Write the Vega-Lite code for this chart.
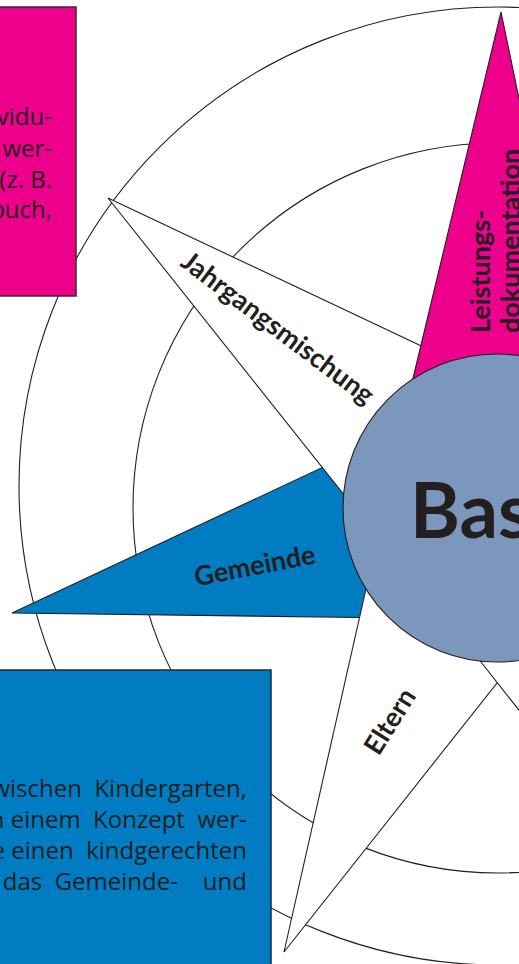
{
  "$schema": "https://vega.github.io/schema/vega-lite/v6.json",
  "width": 519,
  "height": 964,
  "autosize": {"type": "none"},
  "padding": 0,
  "background": "white",
  "config": {"view": {"stroke": null}},
  "datasets": {
    "rings": [
      {"ring": "outer", "x": 498, "y": 486},
      {"ring": "middle", "x": 498, "y": 508},
      {"ring": "hub", "x": 497, "y": 508}
    ],
    "shapes": [
      {"shape": "Gemeinde", "v": 1, "x": 12, "y": 613},
      {"shape": "Gemeinde", "v": 2, "x": 400, "y": 431},
      {"shape": "Gemeinde", "v": 3, "x": 400, "y": 618},
      {"shape": "Jahrgangsmischung", "v": 1, "x": 108, "y": 198},
      {"shape": "Jahrgangsmischung", "v": 2, "x": 470, "y": 369},
      {"shape": "Jahrgangsmischung", "v": 3, "x": 372, "y": 530},
      {"shape": "Eltern", "v": 1, "x": 284, "y": 952},
      {"shape": "Eltern", "v": 2, "x": 368, "y": 580},
      {"shape": "Eltern", "v": 3, "x": 520, "y": 654},
      {"shape": "Suedost", "v": 1, "x": 470, "y": 648},
      {"shape": "Suedost", "v": 2, "x": 889, "y": 1180},
      {"shape": "Suedost", "v": 3, "x": 560, "y": 600},
      {"shape": "Leistungsdokumentation", "v": 1, "x": 501, "y": 12},
      {"shape": "Leistungsdokumentation", "v": 2, "x": 586, "y": 420},
      {"shape": "Leistungsdokumentation", "v": 3, "x": 403, "y": 420}
    ],
    "labels": [
      {"label": "Jahrgangsmischung", "x": 277, "y": 329},
      {"label": "Gemeinde", "x": 255, "y": 567},
      {"label": "Eltern", "x": 391, "y": 722},
      {"label": "Leistungs-", "x": 490, "y": 333},
      {"label": "dokumentation", "x": 520, "y": 333},
      {"label": "Basisstufe", "x": 410, "y": 538}
    ],
    "boxes": [
      {"box": "pink", "x": -10, "x2": 76, "y": 7, "y2": 296},
      {"box": "blue", "x": -10, "x2": 271, "y": 670, "y2": 990}
    ],
    "boxtext": [
      {"box": "pink", "x": 52, "y": 125, "t": "individu-"},
      {"box": "pink", "x": 52, "y": 157, "t": "dokumentiert wer-"},
      {"box": "pink", "x": 52, "y": 188, "t": "den (z. B."},
      {"box": "pink", "x": 52, "y": 218, "t": "Lerntagebuch,"},
      {"box": "blue", "x": 247, "y": 797, "t": "zwischen\u00a0\u00a0Kindergarten,"},
      {"box": "blue", "x": 247, "y": 828, "t": "in\u00a0einem\u00a0\u00a0Konzept\u00a0\u00a0wer-"},
      {"box": "blue", "x": 247, "y": 859, "t": "die\u00a0einen\u00a0\u00a0kindgerechten"},
      {"box": "blue", "x": 247, "y": 890, "t": "für\u00a0\u00a0\u00a0\u00a0das\u00a0\u00a0Gemeinde-\u00a0\u00a0\u00a0\u00a0und"}
    ]
  },
  "encoding": {
    "x": {"field": "x", "type": "quantitative", "scale": {"domain": [0, 519], "nice": false, "zero": false}, "axis": null},
    "y": {"field": "y", "type": "quantitative", "scale": {"domain": [0, 964], "nice": false, "zero": false, "reverse": true}, "axis": null}
  },
  "layer": [
    {
      "data": {"name": "rings"},
      "transform": [{"filter": "datum.ring == 'outer'"}],
      "mark": {"type": "point", "shape": "circle", "size": 917764, "filled": false, "stroke": "#231f20", "strokeWidth": 1.1, "opacity": 1}
    },
    {
      "data": {"name": "rings"},
      "transform": [{"filter": "datum.ring == 'middle'"}],
      "mark": {"type": "point", "shape": "circle", "size": 532900, "filled": false, "stroke": "#231f20", "strokeWidth": 1.1, "opacity": 1}
    },
    {
      "data": {"name": "shapes"},
      "transform": [{"filter": "datum.shape == 'Gemeinde'"}],
      "mark": {"type": "line", "interpolate": "linear-closed", "fill": "#007cc3", "stroke": "#231f20", "strokeWidth": 1.1, "strokeJoin": "miter"},
      "encoding": {"order": {"field": "v", "type": "quantitative"}}
    },
    {
      "data": {"name": "shapes"},
      "transform": [{"filter": "datum.shape == 'Jahrgangsmischung'"}],
      "mark": {"type": "line", "interpolate": "linear-closed", "fill": "white", "stroke": "#231f20", "strokeWidth": 1.1, "strokeJoin": "miter"},
      "encoding": {"order": {"field": "v", "type": "quantitative"}}
    },
    {
      "data": {"name": "shapes"},
      "transform": [{"filter": "datum.shape == 'Eltern'"}],
      "mark": {"type": "line", "interpolate": "linear-closed", "fill": "white", "stroke": "#231f20", "strokeWidth": 1.1, "strokeJoin": "miter"},
      "encoding": {"order": {"field": "v", "type": "quantitative"}}
    },
    {
      "data": {"name": "shapes"},
      "transform": [{"filter": "datum.shape == 'Suedost'"}],
      "mark": {"type": "line", "interpolate": "linear-closed", "fill": "white", "stroke": "#231f20", "strokeWidth": 1.1, "strokeJoin": "miter"},
      "encoding": {"order": {"field": "v", "type": "quantitative"}}
    },
    {
      "data": {"name": "shapes"},
      "transform": [{"filter": "datum.shape == 'Leistungsdokumentation'"}],
      "mark": {"type": "line", "interpolate": "linear-closed", "fill": "#ec008c", "stroke": "#231f20", "strokeWidth": 1.1, "strokeJoin": "miter"},
      "encoding": {"order": {"field": "v", "type": "quantitative"}}
    },
    {
      "data": {"name": "rings"},
      "transform": [{"filter": "datum.ring == 'hub'"}],
      "mark": {"type": "point", "shape": "circle", "size": 94864, "filled": true, "fill": "#7b98bc", "stroke": "#231f20", "strokeWidth": 1.1, "opacity": 1}
    },
    {
      "data": {"name": "labels"},
      "transform": [{"filter": "datum.label == 'Jahrgangsmischung'"}],
      "mark": {"type": "text", "angle": 37, "align": "center", "baseline": "middle", "font": "Lato", "fontWeight": "bold", "fontSize": 27, "color": "#231f20"},
      "encoding": {"text": {"field": "label"}}
    },
    {
      "data": {"name": "labels"},
      "transform": [{"filter": "datum.label == 'Gemeinde'"}],
      "mark": {"type": "text", "angle": -11, "align": "center", "baseline": "middle", "font": "Lato", "fontWeight": "bold", "fontSize": 27, "color": "#231f20"},
      "encoding": {"text": {"field": "label"}}
    },
    {
      "data": {"name": "labels"},
      "transform": [{"filter": "datum.label == 'Eltern'"}],
      "mark": {"type": "text", "angle": -58, "align": "center", "baseline": "middle", "font": "Lato", "fontWeight": "bold", "fontSize": 27, "color": "#231f20"},
      "encoding": {"text": {"field": "label"}}
    },
    {
      "data": {"name": "labels"},
      "transform": [{"filter": "datum.label == 'Leistungs-' || datum.label == 'dokumentation'"}],
      "mark": {"type": "text", "angle": -90, "align": "left", "baseline": "alphabetic", "font": "Lato", "fontWeight": "bold", "fontSize": 27, "color": "#231f20"},
      "encoding": {"text": {"field": "label"}}
    },
    {
      "data": {"name": "labels"},
      "transform": [{"filter": "datum.label == 'Basisstufe'"}],
      "mark": {"type": "text", "align": "left", "baseline": "alphabetic", "font": "Lato", "fontWeight": "bold", "fontSize": 76, "color": "#231f20"},
      "encoding": {"text": {"field": "label"}}
    },
    {
      "data": {"name": "boxes"},
      "transform": [{"filter": "datum.box == 'pink'"}],
      "mark": {"type": "rect", "fill": "#ec008c", "stroke": "#3a2a30", "strokeWidth": 1.5},
      "encoding": {"x2": {"field": "x2"}, "y2": {"field": "y2"}}
    },
    {
      "data": {"name": "boxes"},
      "transform": [{"filter": "datum.box == 'blue'"}],
      "mark": {"type": "rect", "fill": "#007cc3", "stroke": "#1d2a3a", "strokeWidth": 1.5},
      "encoding": {"x2": {"field": "x2"}, "y2": {"field": "y2"}}
    },
    {
      "data": {"name": "boxtext"},
      "mark": {"type": "text", "align": "right", "baseline": "alphabetic", "font": "Open Sans", "fontSize": 24, "color": "#231f20"},
      "encoding": {"text": {"field": "t"}}
    }
  ]
}
